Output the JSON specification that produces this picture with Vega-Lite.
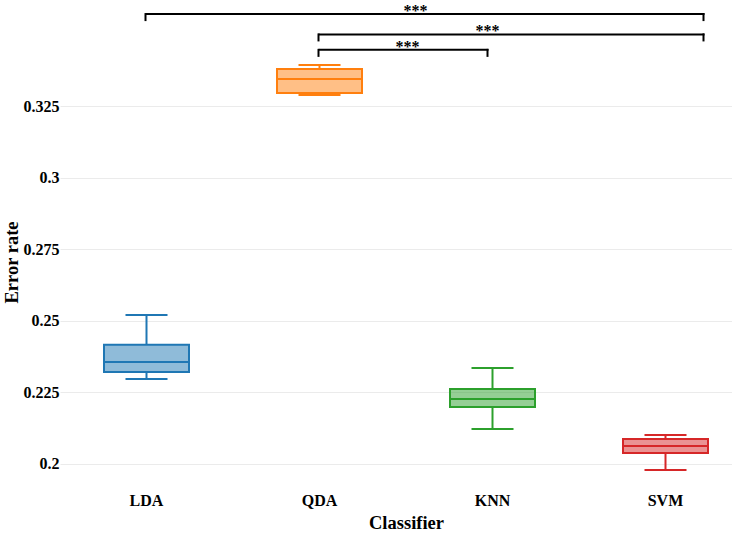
{
  "$schema": "https://vega.github.io/schema/vega-lite/v6.json",
  "autosize": {"type": "none"},
  "padding": {"left": 62, "top": 44, "right": 0, "bottom": 57},
  "width": 670,
  "height": 436,
  "background": "white",
  "config": {
    "view": {"stroke": null},
    "font": "Liberation Serif",
    "axis": {
      "labelFont": "Liberation Serif",
      "labelFontWeight": "bold",
      "labelFontSize": 16,
      "labelColor": "black",
      "titleFont": "Liberation Serif",
      "titleFontWeight": "bold",
      "titleFontSize": 18.5,
      "titleColor": "black",
      "domain": false,
      "ticks": false
    }
  },
  "datasets": {
    "boxes": [
      {"classifier": "LDA", "min": 0.2297, "q1": 0.2321, "median": 0.2356, "q3": 0.2416, "max": 0.2520},
      {"classifier": "QDA", "min": 0.3288, "q1": 0.3295, "median": 0.3344, "q3": 0.3379, "max": 0.3393},
      {"classifier": "KNN", "min": 0.2122, "q1": 0.2199, "median": 0.2227, "q3": 0.2262, "max": 0.2335},
      {"classifier": "SVM", "min": 0.1979, "q1": 0.2038, "median": 0.2063, "q3": 0.2087, "max": 0.2101}
    ],
    "brackets": [
      {"from": "LDA", "to": "SVM", "y": 0.3571, "drop": 0.3550, "label": "***", "pair": "LDA-SVM", "at": "QDA"},
      {"from": "QDA", "to": "SVM", "y": 0.3500, "drop": 0.3479, "label": "***", "pair": "QDA-SVM", "at": "KNN"},
      {"from": "QDA", "to": "KNN", "y": 0.3446, "drop": 0.3425, "label": "***", "pair": "QDA-KNN", "at": "QDA"}
    ]
  },
  "layer": [
    {
      "data": {"name": "boxes"},
      "mark": {"type": "bar", "size": 85, "fillOpacity": 0.5, "strokeWidth": 2},
      "encoding": {
        "x": {
          "field": "classifier", "type": "nominal", "title": "Classifier",
          "scale": {"type": "band", "domain": ["LDA", "QDA", "KNN", "SVM"], "range": [-2, 690], "paddingInner": 0, "paddingOuter": 0},
          "axis": {"labelAngle": 0, "labelPadding": 12, "titlePadding": 5, "titleX": 344, "grid": false}
        },
        "y": {
          "field": "q1", "type": "quantitative", "title": "Error rate",
          "scale": {"domain": [0.19441, 0.34665], "nice": false, "zero": false},
          "axis": {"values": [0.2, 0.225, 0.25, 0.275, 0.3, 0.325], "format": ".3~f", "grid": true, "gridColor": "#ebebeb", "gridWidth": 1, "labelPadding": 3, "titlePadding": 2}
        },
        "y2": {"field": "q3"},
        "color": {"field": "classifier", "type": "nominal", "scale": {"domain": ["LDA", "QDA", "KNN", "SVM"], "range": ["#1f77b4", "#ff7f0e", "#2ca02c", "#d62728"]}, "legend": null},
        "stroke": {"field": "classifier", "type": "nominal", "scale": {"domain": ["LDA", "QDA", "KNN", "SVM"], "range": ["#1f77b4", "#ff7f0e", "#2ca02c", "#d62728"]}, "legend": null}
      }
    },
    {
      "data": {"name": "boxes"},
      "mark": {"type": "rule", "strokeWidth": 2},
      "encoding": {
        "x": {"field": "classifier", "type": "nominal", "title": "Classifier"},
        "y": {"field": "min", "type": "quantitative", "title": "Error rate"},
        "y2": {"field": "q1"},
        "color": {"field": "classifier", "type": "nominal", "legend": null}
      }
    },
    {
      "data": {"name": "boxes"},
      "mark": {"type": "rule", "strokeWidth": 2},
      "encoding": {
        "x": {"field": "classifier", "type": "nominal", "title": "Classifier"},
        "y": {"field": "q3", "type": "quantitative", "title": "Error rate"},
        "y2": {"field": "max"},
        "color": {"field": "classifier", "type": "nominal", "legend": null}
      }
    },
    {
      "data": {"name": "boxes"},
      "mark": {"type": "tick", "size": 85, "thickness": 2, "opacity": 1},
      "encoding": {
        "x": {"field": "classifier", "type": "nominal", "title": "Classifier"},
        "y": {"field": "median", "type": "quantitative", "title": "Error rate"},
        "color": {"field": "classifier", "type": "nominal", "legend": null}
      }
    },
    {
      "data": {"name": "boxes"},
      "mark": {"type": "tick", "size": 42, "thickness": 2, "opacity": 1},
      "encoding": {
        "x": {"field": "classifier", "type": "nominal", "title": "Classifier"},
        "y": {"field": "min", "type": "quantitative", "title": "Error rate"},
        "color": {"field": "classifier", "type": "nominal", "legend": null}
      }
    },
    {
      "data": {"name": "boxes"},
      "mark": {"type": "tick", "size": 42, "thickness": 2, "opacity": 1},
      "encoding": {
        "x": {"field": "classifier", "type": "nominal", "title": "Classifier"},
        "y": {"field": "max", "type": "quantitative", "title": "Error rate"},
        "color": {"field": "classifier", "type": "nominal", "legend": null}
      }
    },
    {
      "data": {"name": "brackets"},
      "transform": [{"filter": "datum.to === 'SVM'"}],
      "mark": {"type": "rule", "strokeWidth": 2, "color": "black", "strokeCap": "square", "x2Offset": 38},
      "encoding": {
        "x": {"field": "from", "type": "nominal", "title": "Classifier"},
        "x2": {"field": "to"},
        "y": {"field": "y", "type": "quantitative", "title": "Error rate"}
      }
    },
    {
      "data": {"name": "brackets"},
      "transform": [{"filter": "datum.to === 'KNN'"}],
      "mark": {"type": "rule", "strokeWidth": 2, "color": "black", "strokeCap": "square", "x2Offset": -5},
      "encoding": {
        "x": {"field": "from", "type": "nominal", "title": "Classifier"},
        "x2": {"field": "to"},
        "y": {"field": "y", "type": "quantitative", "title": "Error rate"}
      }
    },
    {
      "data": {"name": "brackets"},
      "mark": {"type": "rule", "strokeWidth": 2, "color": "black", "strokeCap": "square", "xOffset": -1},
      "encoding": {
        "x": {"field": "from", "type": "nominal", "title": "Classifier"},
        "y": {"field": "y", "type": "quantitative", "title": "Error rate"},
        "y2": {"field": "drop"}
      }
    },
    {
      "data": {"name": "brackets"},
      "transform": [{"filter": "datum.to === 'SVM'"}],
      "mark": {"type": "rule", "strokeWidth": 2, "color": "black", "strokeCap": "square", "xOffset": 38},
      "encoding": {
        "x": {"field": "to", "type": "nominal", "title": "Classifier"},
        "y": {"field": "y", "type": "quantitative", "title": "Error rate"},
        "y2": {"field": "drop"}
      }
    },
    {
      "data": {"name": "brackets"},
      "transform": [{"filter": "datum.to === 'KNN'"}],
      "mark": {"type": "rule", "strokeWidth": 2, "color": "black", "strokeCap": "square", "xOffset": -5},
      "encoding": {
        "x": {"field": "to", "type": "nominal", "title": "Classifier"},
        "y": {"field": "y", "type": "quantitative", "title": "Error rate"},
        "y2": {"field": "drop"}
      }
    },
    {
      "data": {"name": "brackets"},
      "transform": [{"filter": "datum.pair === 'LDA-SVM'"}],
      "mark": {"type": "text", "font": "Liberation Serif", "fontWeight": "bold", "fontSize": 16, "color": "black", "baseline": "alphabetic", "dx": 96, "dy": 2},
      "encoding": {
        "x": {"field": "at", "type": "nominal", "title": "Classifier"},
        "y": {"field": "y", "type": "quantitative", "title": "Error rate"},
        "text": {"field": "label"}
      }
    },
    {
      "data": {"name": "brackets"},
      "transform": [{"filter": "datum.pair === 'QDA-SVM'"}],
      "mark": {"type": "text", "font": "Liberation Serif", "fontWeight": "bold", "fontSize": 16, "color": "black", "baseline": "alphabetic", "dx": -5, "dy": 2},
      "encoding": {
        "x": {"field": "at", "type": "nominal", "title": "Classifier"},
        "y": {"field": "y", "type": "quantitative", "title": "Error rate"},
        "text": {"field": "label"}
      }
    },
    {
      "data": {"name": "brackets"},
      "transform": [{"filter": "datum.pair === 'QDA-KNN'"}],
      "mark": {"type": "text", "font": "Liberation Serif", "fontWeight": "bold", "fontSize": 16, "color": "black", "baseline": "alphabetic", "dx": 88, "dy": 2},
      "encoding": {
        "x": {"field": "at", "type": "nominal", "title": "Classifier"},
        "y": {"field": "y", "type": "quantitative", "title": "Error rate"},
        "text": {"field": "label"}
      }
    }
  ]
}
